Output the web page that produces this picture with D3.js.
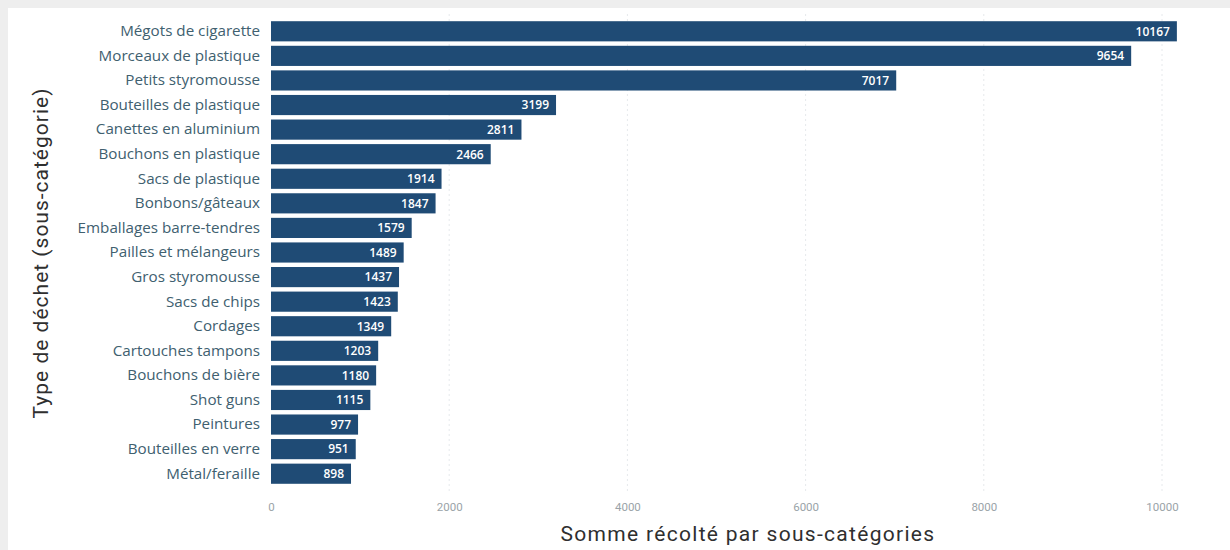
<!DOCTYPE html>
<html>
<head>
<meta charset="utf-8">
<script src="https://cdn.jsdelivr.net/npm/d3@7"></script>
<style>
  html, body { margin: 0; padding: 0; background: #eeeeee; }
  svg { display: block; }
</style>
</head>
<body>
<svg id="chart" width="1230" height="550"></svg>
<script>
// Sub-categories of collected waste, largest first
const categories = [
  "Mégots de cigarette", "Morceaux de plastique", "Petits styromousse",
  "Bouteilles de plastique", "Canettes en aluminium", "Bouchons en plastique",
  "Sacs de plastique", "Bonbons/gâteaux", "Emballages barre-tendres",
  "Pailles et mélangeurs", "Gros styromousse", "Sacs de chips", "Cordages",
  "Cartouches tampons", "Bouchons de bière", "Shot guns", "Peintures",
  "Bouteilles en verre", "Métal/feraille"
];
const counts = [10167, 9654, 7017, 3199, 2811, 2466, 1914, 1847, 1579,
  1489, 1437, 1423, 1349, 1203, 1180, 1115, 977, 951, 898];
const xTicks = [0, 2000, 4000, 6000, 8000, 10000];

const svg = d3.select("#chart");
const W = 1230, H = 550;

// white card on a light grey page
svg.append("rect").attr("x", 0).attr("y", 0).attr("width", W).attr("height", H).attr("fill", "#eeeeee");
svg.append("rect").attr("x", 8).attr("y", 8).attr("width", W - 8).attr("height", H - 8).attr("fill", "#ffffff");

const x = d3.scaleLinear().domain([0, 10000]).range([271, 1162]);
const y = d3.scaleBand().domain(categories).range([19, 486]).paddingInner(0.18).paddingOuter(0.09);

// dotted vertical gridlines
svg.append("g").selectAll("line").data(xTicks.filter(t => t > 0)).join("line")
  .attr("x1", d => x(d)).attr("x2", d => x(d))
  .attr("y1", 14).attr("y2", 492)
  .attr("stroke", "#e6e9ec").attr("stroke-width", 1).attr("stroke-dasharray", "2,3");

// bars
svg.append("g").selectAll("rect").data(categories).join("rect")
  .attr("x", x(0))
  .attr("y", d => y(d))
  .attr("width", (d, i) => x(counts[i]) - x(0))
  .attr("height", y.bandwidth())
  .attr("fill", "#1f4b75");

// value labels inside bar ends
svg.append("g").selectAll("text").data(categories).join("text")
  .attr("x", (d, i) => x(counts[i]) - 7)
  .attr("y", d => y(d) + y.bandwidth() / 2)
  .attr("dy", "0.36em")
  .attr("text-anchor", "end")
  .attr("fill", "#ffffff")
  .attr("font-family", "'Open Sans', Lato, sans-serif")
  .attr("font-weight", "600")
  .attr("font-size", "12px")
  .text((d, i) => counts[i]);

// category axis
const yAxis = svg.append("g")
  .attr("transform", `translate(${x(0)},0)`)
  .call(d3.axisLeft(y).tickSize(0).tickPadding(11));
yAxis.select(".domain").remove();
yAxis.selectAll("text")
  .attr("fill", "#40606f")
  .attr("font-family", "'Open Sans', Lato, sans-serif")
  .attr("font-size", "15.2px");

// value axis
const xAxis = svg.append("g")
  .attr("transform", "translate(0,499)")
  .call(d3.axisBottom(x).tickValues(xTicks).tickFormat(d3.format("d")).tickSize(0).tickPadding(4));
xAxis.select(".domain").remove();
xAxis.selectAll("text")
  .attr("fill", "#9aa3a8")
  .attr("font-family", "'Roboto', 'Open Sans', sans-serif")
  .attr("font-size", "11.5px");

// axis titles
svg.append("text")
  .attr("x", 748).attr("y", 541)
  .attr("text-anchor", "middle")
  .attr("fill", "#2f2f2f")
  .attr("font-family", "'Roboto', sans-serif")
  .attr("font-size", "21px")
  .attr("letter-spacing", "1.3px")
  .text("Somme récolté par sous-catégories");

svg.append("text")
  .attr("transform", "translate(48,253) rotate(-90)")
  .attr("text-anchor", "middle")
  .attr("fill", "#2f2f2f")
  .attr("font-family", "'Roboto', sans-serif")
  .attr("font-size", "21px")
  .attr("letter-spacing", "1px")
  .text("Type de déchet (sous-catégorie)");
</script>
</body>
</html>
